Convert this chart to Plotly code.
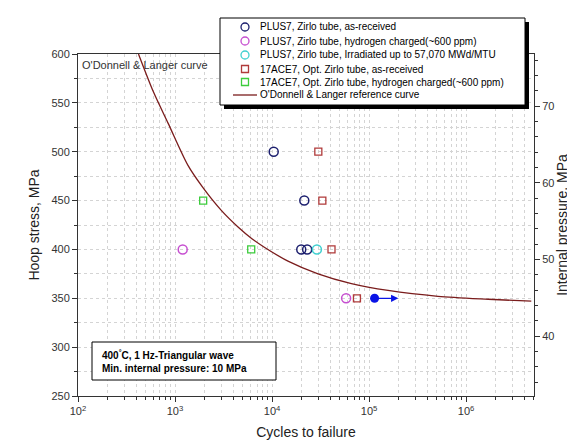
import numpy as np
import plotly.graph_objects as go

# ---- data ----
plus7_asrec_N = [1.04e4, 2.15e4, 2.0e4, 2.3e4]
plus7_asrec_S = [500, 450, 400, 400]
plus7_h_N = [1.2e3, 5.8e4]
plus7_h_S = [400, 350]
plus7_irr_N = [2.9e4]
plus7_irr_S = [400]
runout_N = [1.14e5]
runout_S = [350]
runout_arrow_to = [2.0e5]
ace_asrec_N = [3.0e4, 3.3e4, 4.1e4, 7.5e4]
ace_asrec_S = [500, 450, 400, 350]
ace_h_N = [1.95e3, 6.1e3]
ace_h_S = [450, 400]
curve_N = [420, 600, 850, 1360, 1950, 3000, 4460, 6200, 8400, 14600, 29800, 65800, 157000, 514000, 1690000, 4700000]
curve_S = [600, 561, 529, 486, 463, 440, 423, 411, 402, 388, 375, 365, 358, 352, 349, 347]

x_tickvals = [1e2, 1e3, 1e4, 1e5, 1e6]
x_ticktext = ["10<sup>2</sup>", "10<sup>3</sup>", "10<sup>4</sup>", "10<sup>5</sup>", "10<sup>6</sup>"]
p_tickvals = [40, 50, 60, 70]

legend_labels = [
    "PLUS7, Zirlo tube, as-received",
    "PLUS7, Zirlo tube, hydrogen charged(~600 ppm)",
    "PLUS7, Zirlo tube, Irradiated up to 57,070 MWd/MTU",
    "17ACE7, Opt. Zirlo tube, as-received",
    "17ACE7, Opt. Zirlo tube, hydrogen charged(~600 ppm)",
    "O'Donnell & Langer reference curve",
]

C_NAVY = "#1c1f6e"
C_MAG = "#c64fd0"
C_CYAN = "#3fd0d0"
C_RED = "#b03a3a"
C_GREEN = "#3ccc3c"
C_CURVE = "#7a1c1c"
C_BLUE = "#0a14e6"
FONT = "Liberation Sans, Arial, sans-serif"

fig = go.Figure()

fig.add_trace(go.Scatter(x=curve_N, y=curve_S, mode="lines", line=dict(color=C_CURVE, width=1.3, shape="spline", smoothing=0.8),
                         name=legend_labels[5], showlegend=False))

def circ(N, S, color, name):
    fig.add_trace(go.Scatter(x=N, y=S, mode="markers", name=name, showlegend=False,
                             marker=dict(symbol="circle-open", size=9, color=color, line=dict(width=1.5, color=color))))

def sq(N, S, color, name):
    fig.add_trace(go.Scatter(x=N, y=S, mode="markers", name=name, showlegend=False,
                             marker=dict(symbol="square-open", size=7, color=color, line=dict(width=1.3, color=color))))

circ(plus7_asrec_N, plus7_asrec_S, C_NAVY, legend_labels[0])
circ(plus7_h_N, plus7_h_S, C_MAG, legend_labels[1])
circ(plus7_irr_N, plus7_irr_S, C_CYAN, legend_labels[2])
sq(ace_asrec_N, ace_asrec_S, C_RED, legend_labels[3])
sq(ace_h_N, ace_h_S, C_GREEN, legend_labels[4])

fig.add_trace(go.Scatter(x=runout_N, y=runout_S, mode="markers", showlegend=False, name="run-out",
                         marker=dict(symbol="circle", size=9, color=C_BLUE)))

# run-out arrow
fig.add_annotation(x=np.log10(runout_arrow_to[0]), y=runout_S[0], ax=np.log10(runout_N[0]), ay=runout_S[0],
                   xref="x", yref="y", axref="x", ayref="y", text="", showarrow=True,
                   arrowhead=2, arrowsize=1.2, arrowwidth=1.2, arrowcolor=C_BLUE)

# plot-area geometry (px) for paper conversions
L, R, T, B = 70, 526, 46, 388
W, H = R - L, B - T
def px(x):
    return (x - L) / W
def py(y):
    return (B - y) / H

shapes = []
# legend box with shadow
shapes.append(dict(type="rect", xref="paper", yref="paper", x0=px(216), x1=px(521), y0=py(101), y1=py(14),
                   fillcolor="black", line=dict(width=0), layer="above"))
shapes.append(dict(type="rect", xref="paper", yref="paper", x0=px(212), x1=px(517), y0=py(97), y1=py(10),
                   fillcolor="white", line=dict(width=1, color="black"), layer="above"))
rows = [19, 33, 47, 61, 74, 87]
mk_colors = [C_NAVY, C_MAG, C_CYAN, C_RED, C_GREEN]
for i in range(5):
    r = 4 if i < 3 else 3.5
    shapes.append(dict(type="circle" if i < 3 else "rect", xref="paper", yref="paper",
                       x0=px(237 - r), x1=px(237 + r), y0=py(rows[i] + r), y1=py(rows[i] - r),
                       line=dict(color=mk_colors[i], width=1.3), fillcolor="rgba(0,0,0,0)", layer="above"))
shapes.append(dict(type="line", xref="paper", yref="paper", x0=px(225), x1=px(249), y0=py(rows[5]), y1=py(rows[5]),
                   line=dict(color=C_CURVE, width=1.3), layer="above"))
# condition box
shapes.append(dict(type="rect", xref="paper", yref="paper", x0=px(84), x1=px(268), y0=py(372), y1=py(334),
                   fillcolor="white", line=dict(width=1, color="black"), layer="above"))

for i, lab in enumerate(legend_labels):
    fig.add_annotation(xref="paper", yref="paper", x=px(250), y=py(rows[i]), text=lab, showarrow=False,
                       xanchor="left", yanchor="middle", font=dict(family=FONT, size=10, color="black"))

fig.add_annotation(xref="paper", yref="paper", x=px(92), y=py(353),
                   text="<b>400<sup>°</sup>C, 1 Hz-Triangular wave<br>Min. internal pressure: 10 MPa</b>",
                   showarrow=False, xanchor="left", yanchor="middle", align="left",
                   font=dict(family=FONT, size=10, color="black"))

fig.add_annotation(xref="paper", yref="paper", x=px(72), y=py(57), text="O'Donnell & Langer curve",
                   showarrow=False, xanchor="left", yanchor="middle", font=dict(family=FONT, size=11, color="#333"))

GC = "#d4d4d4"
grid = dict(showgrid=True, gridcolor=GC, gridwidth=1, griddash="dot")
tickfont = dict(family=FONT, size=11, color="#333")

fig.update_layout(
    width=575, height=443, margin=dict(l=L, r=575 - R, t=T, b=443 - B),
    paper_bgcolor="white", plot_bgcolor="white", showlegend=False,
    shapes=shapes,
    xaxis=dict(type="log", range=[2, 6.70], tickvals=x_tickvals, ticktext=x_ticktext, ticks="outside", ticklen=5,
               tickcolor="#333", showline=True, linecolor="#333", linewidth=1, mirror=True,
               tickfont=tickfont, zeroline=False, **grid,
               minor=dict(dtick="D1", ticks="outside", ticklen=3, tickcolor="#333", showgrid=True,
                          gridcolor=GC, griddash="dot"),
               title=dict(text="Cycles to failure", font=dict(family=FONT, size=14, color="#222"), standoff=10)),
    yaxis=dict(range=[250, 600], dtick=50, ticks="outside", ticklen=5, tickcolor="#333", showline=True,
               linecolor="#333", linewidth=1, tickfont=tickfont, zeroline=False, **grid,
               minor=dict(dtick=25, ticks="outside", ticklen=3, tickcolor="#333", showgrid=True,
                          gridcolor=GC, griddash="dot"),
               title=dict(text="Hoop stress, MPa", font=dict(family=FONT, size=14, color="#222"), standoff=8)),
    yaxis2=dict(overlaying="y", side="right", range=[32.2, 76.8], tickvals=p_tickvals, ticks="outside", ticklen=5,
                tickcolor="#333", showline=True, linecolor="#333", linewidth=1, tickfont=tickfont,
                showgrid=False, zeroline=False,
                minor=dict(dtick=2, ticks="outside", ticklen=3, tickcolor="#333", showgrid=False),
                title=dict(text="Internal pressure, MPa", font=dict(family=FONT, size=14, color="#222"), standoff=0)),
)

# invisible helper so the secondary axis is bound to a subplot
fig.add_trace(go.Scatter(x=[x_tickvals[0]], y=[p_tickvals[0]], yaxis="y2", mode="markers",
                         marker=dict(opacity=0), showlegend=False, hoverinfo="skip"))

fig.write_html("out.html")
